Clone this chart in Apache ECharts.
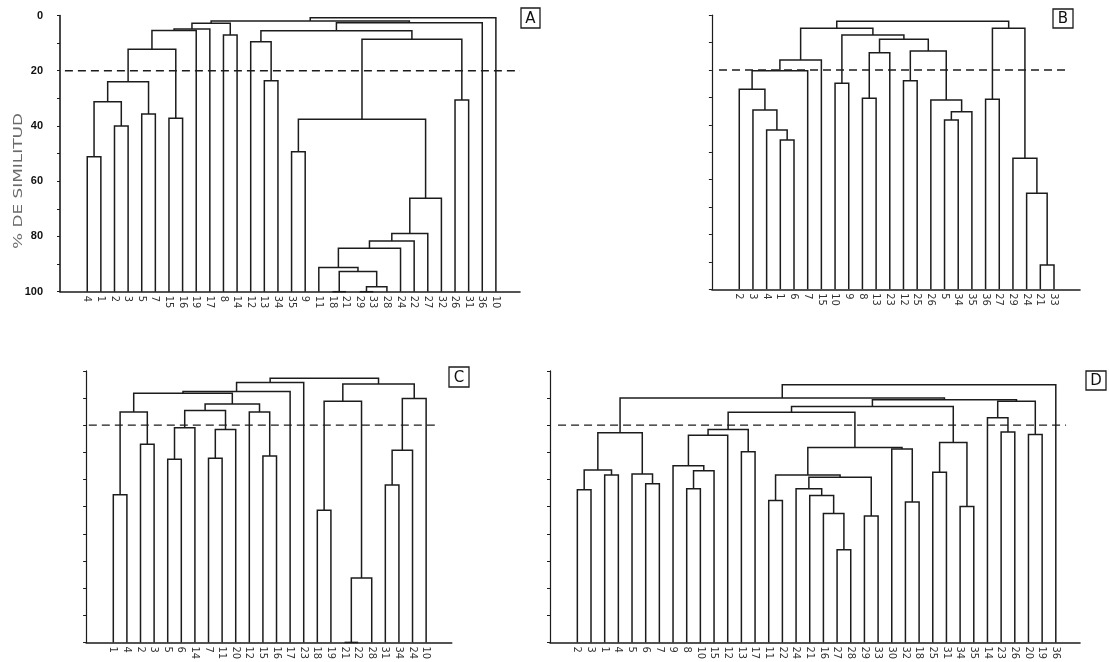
<!DOCTYPE html>
<html>
<head>
<meta charset="utf-8">
<script src="https://cdn.jsdelivr.net/npm/echarts@6/dist/echarts.min.js"></script>
<style>html,body{margin:0;padding:0;background:#fff}#c{width:1109px;height:662px}</style>
</head>
<body>
<div id="c"></div>
<script>
// ---------- DATA ----------
// Leaves (station numbers) in the order they appear on each dendrogram
const leavesA = ["4","1","2","3","5","7","15","16","19","17","8","14","12","13","34","35","9","11","18","21","29","33","28","24","22","27","32","26","31","36","10"];
const leavesB = ["2","3","4","1","6","7","15","10","9","8","13","23","12","25","26","5","34","35","36","27","29","24","21","33"];
const leavesC = ["1","4","2","3","5","6","14","7","11","20","12","15","16","17","23","18","19","21","22","28","31","34","24","10"];
const leavesD = ["2","3","1","4","5","6","7","9","8","10","15","12","13","17","11","22","24","21","16","27","28","29","33","30","32","18","25","31","34","35","14","23","26","20","19","36"];

// Merges: [child1, child2, % similarity]; child < n is a leaf index, child >= n is merge (child - n)
const mergesA = [
  [0,1,51.1],[2,3,40.0],[4,5,35.7],[6,7,37.2],[31,32,31.2],[35,33,24.0],[36,34,12.2],
  [37,8,5.4],[38,9,4.9],[10,11,7.1],[39,40,2.8],[13,14,23.6],[12,42,9.5],[15,16,49.3],
  [18,19,100],[20,21,100],[46,22,98.2],[45,47,92.7],[17,48,91.2],[49,23,84.3],[50,24,81.6],
  [51,25,78.9],[52,26,66.2],[44,53,37.6],[27,28,30.6],[54,55,8.6],[43,56,5.5],[57,29,2.6],
  [41,58,2.0],[59,30,0.8]
];
const mergesB = [
  [3,4,45.5],[2,24,41.9],[1,25,34.6],[0,26,27.0],[27,5,20.3],[28,6,16.3],[7,8,24.8],
  [9,10,30.3],[31,11,13.7],[12,13,23.9],[15,16,38.2],[34,17,35.2],[14,35,30.9],[33,36,13.1],
  [32,37,8.8],[30,38,7.2],[29,39,4.8],[18,19,30.7],[22,23,91.1],[21,42,65.0],[20,43,52.2],
  [41,44,4.8],[40,45,2.2]
];
const mergesC = [
  [0,1,45.6],[2,3,27.0],[24,25,15.1],[4,5,32.5],[27,6,20.9],[7,8,32.2],[29,9,21.6],
  [28,30,14.6],[11,12,31.3],[10,32,15.1],[31,33,12.2],[26,34,8.2],[35,13,7.6],[36,14,4.3],
  [15,16,51.3],[17,18,100],[39,19,76.3],[38,40,11.2],[20,21,42.0],[42,22,29.2],[43,23,10.2],
  [41,44,4.8],[37,45,2.7]
];
const mergesD = [
  [0,1,43.8],[2,3,38.3],[36,37,36.5],[5,6,41.6],[4,39,38.0],[38,40,22.8],
  [8,9,43.4],[42,10,36.8],[7,43,34.9],[44,11,23.7],[12,13,29.8],[45,46,21.6],
  [19,20,65.9],[18,48,52.5],[17,49,45.9],[16,50,43.4],[21,22,53.4],[51,52,39.2],
  [14,15,47.7],[54,53,38.3],[24,25,48.3],[23,56,28.8],[55,57,28.2],[47,58,15.2],
  [26,27,37.3],[28,29,49.9],[60,61,26.4],[59,62,13.1],[31,32,22.5],[30,64,17.3],
  [33,34,23.4],[65,66,11.2],[63,67,10.6],[41,68,10.0],[69,35,5.1]
];

const yTickLabels = [0,20,40,60,80,100];
const cutLevel = 20;
const panelNames = ["A","B","C","D"];

// ---------- LAYOUT HELPERS ----------
function links(leaves, merges){
  const n = leaves.length, pos = [], ht = [];
  for (let i = 0; i < n; i++){ pos[i] = i; ht[i] = 100; }
  merges.forEach(([a,b,h],k) => { pos[n+k] = (pos[a]+pos[b])/2; ht[n+k] = h; });
  return merges.map(([a,b,h]) => [pos[a], ht[a], pos[b], ht[b], h]);
}

const panels = [
  {leaves: leavesA, merges: mergesA, grid:{left:60, top:15.5, width:460, height:276.2}, xmax:31.77, dash:[-1.64,31.77], ylab:true},
  {leaves: leavesB, merges: mergesB, grid:{left:711.9, top:15.2, width:368.1, height:274.1}, xmax:24.9, dash:[-1.48,24.17], ylab:false},
  {leaves: leavesC, merges: mergesC, grid:{left:86.1, top:370.9, width:365.6, height:274.1}, xmax:24.88, dash:[-1.8,23.88], ylab:false},
  {leaves: leavesD, merges: mergesD, grid:{left:550, top:370.9, width:530, height:274.1}, xmax:36.77, dash:[-1.41,35.75], ylab:false}
];

const INK = '#1c1c1c';
const labelFont = '"DejaVu Sans Condensed","Liberation Sans Narrow","Liberation Sans",sans-serif';

const grids = [], xAxes = [], yAxes = [], series = [];
panels.forEach((p, i) => {
  grids.push(Object.assign({containLabel:false}, p.grid));
  xAxes.push({
    gridIndex: i, type: 'value', min: -2, max: p.xmax, interval: 1,
    axisLine: {show: true, onZero: false, lineStyle: {color: INK, width: 1.6}},
    axisTick: {show: false}, splitLine: {show: false},
    axisLabel: {
      rotate: -90, margin: 4, fontSize: 11, color: '#333', fontFamily: labelFont,
      showMinLabel: false, showMaxLabel: false,
      formatter: v => (Number.isInteger(v) && v >= 0 && v < p.leaves.length) ? p.leaves[v] : ''
    }
  });
  yAxes.push({
    gridIndex: i, type: 'value', inverse: true, min: 0, max: 100, interval: 10,
    axisLine: {show: true, onZero: false, lineStyle: {color: INK, width: p.ylab ? 1.6 : 1.2}},
    axisTick: {show: true, length: 3, lineStyle: {color: INK}},
    splitLine: {show: false},
    axisLabel: {
      show: p.ylab, margin: 17, fontSize: 11, fontWeight: 'bold', color: '#111',
      fontFamily: '"Liberation Sans",Arial,sans-serif',
      formatter: v => yTickLabels.includes(v) ? String(v) : ''
    }
  });
  series.push({
    type: 'custom', xAxisIndex: i, yAxisIndex: i, silent: true, clip: false,
    data: links(p.leaves, p.merges),
    encode: {x: [0,2], y: [1,3,4]},
    renderItem: (params, api) => {
      const p1 = api.coord([api.value(0), api.value(1)]);
      const p2 = api.coord([api.value(0), api.value(4)]);
      const p3 = api.coord([api.value(2), api.value(4)]);
      const p4 = api.coord([api.value(2), api.value(3)]);
      return {type: 'polyline', shape: {points: [p1,p2,p3,p4]},
              style: {stroke: INK, lineWidth: 1.5, fill: null}};
    }
  });
  series.push({
    type: 'line', xAxisIndex: i, yAxisIndex: i, silent: true, symbol: 'none',
    data: [[p.dash[0], cutLevel], [p.dash[1], cutLevel]],
    lineStyle: {color: INK, width: 1.3, type: [8,5]}
  });
});

const boxes = [
  {x:521, y:8, w:19, h:20},
  {x:1053, y:9, w:20, h:19},
  {x:449, y:367, w:20, h:20},
  {x:1086, y:371, w:20, h:19}
];
const graphic = [];
boxes.forEach((b, i) => {
  graphic.push({type:'rect', shape:{x:b.x, y:b.y, width:b.w, height:b.h}, style:{fill:'#fff', stroke:INK, lineWidth:1.3}});
  graphic.push({type:'text', x:b.x + b.w/2, y:b.y + b.h/2 + 1,
    style:{text: panelNames[i], fill:'#111', font:'15px "DejaVu Sans", sans-serif', textAlign:'center', textVerticalAlign:'middle'}});
});
graphic.push({type:'text', x:19, y:181, rotation: Math.PI/2, scaleX: 1.3, scaleY: 1,
  style:{text:'% DE SIMILITUD', fill:'#6a6a6a', font:'13px "DejaVu Sans", sans-serif', textAlign:'center', textVerticalAlign:'middle'}});

const chart = echarts.init(document.getElementById('c'), null, {renderer: 'canvas'});
chart.setOption({
  animation: false,
  backgroundColor: '#fff',
  grid: grids, xAxis: xAxes, yAxis: yAxes, series: series, graphic: graphic
});
</script>
</body>
</html>
